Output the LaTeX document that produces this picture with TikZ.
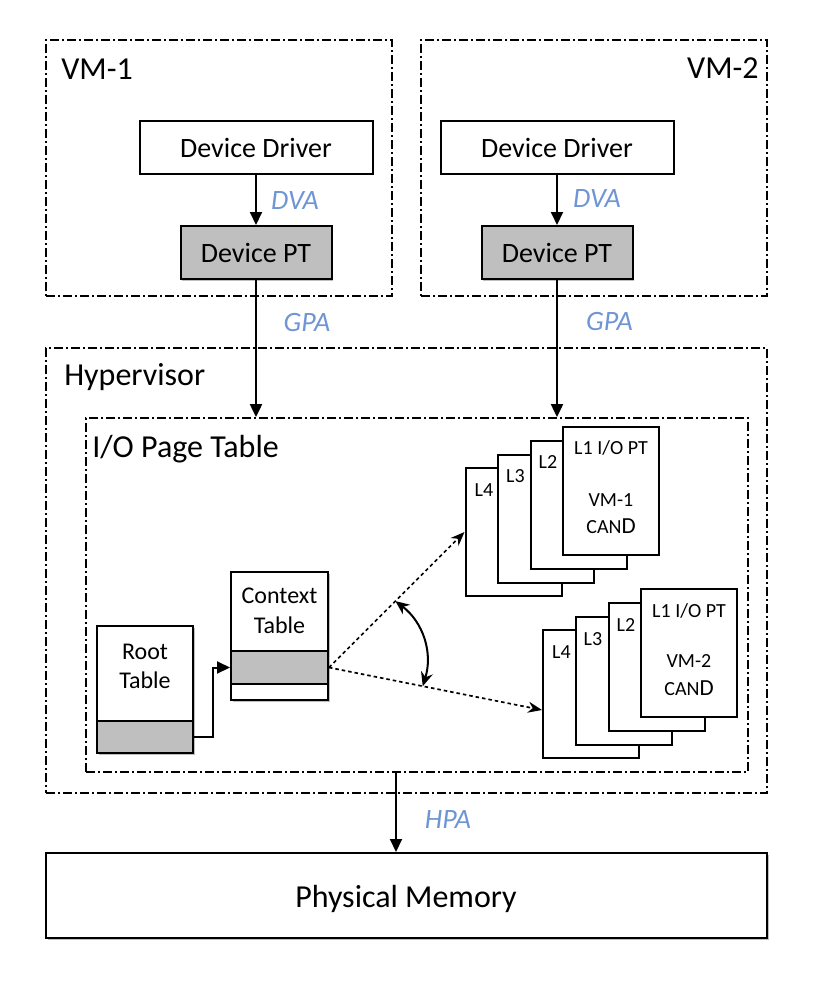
\documentclass[tikz,border=0pt]{standalone}
\usepackage{fontspec}
\setmainfont{Carlito}
\usetikzlibrary{arrows.meta,calc,shadows}
\definecolor{lblblue}{RGB}{111,149,213}
\definecolor{shadegray}{RGB}{191,191,191}
\begin{document}
\begin{tikzpicture}[x=1pt,y=-1pt,
  container/.style={draw, line width=1.8pt, dash pattern=on 9pt off 3pt on 2pt off 3pt, inner sep=0pt},
  box/.style={draw, line width=2pt, fill=white, inner sep=0pt,
    drop shadow={shadow xshift=1.5pt, shadow yshift=-1.5pt, opacity=0.25, fill=black}},
  plainbox/.style={draw, line width=2pt, fill=white, inner sep=0pt},
  graybox/.style={box, fill=shadegray},
  pagebox/.style={plainbox, minimum width=96pt, minimum height=128pt},
  arr/.style={line width=2pt, -{Triangle[length=13pt,width=12pt]}},
  dotarr/.style={line width=1.7pt, dash pattern=on 3.5pt off 3pt, -{Stealth[length=14pt,width=11pt]}},
  bigfont/.style={font=\fontsize{32}{38}\selectfont},
  devfont/.style={font=\fontsize{28}{33}\selectfont},
  tblfont/.style={font=\fontsize{24}{29}\selectfont},
  smallfont/.style={font=\fontsize{20}{24}\selectfont},
  addr/.style={font=\fontsize{28}{33}\selectfont\itshape, text=lblblue, inner sep=0pt},
  lab/.style={inner sep=0pt}
]
\useasboundingbox (0,0) rectangle (812,987);
\fill[white] (0,0) rectangle (812,987);

% containers
\node[container, minimum width=346pt, minimum height=256pt] (vm1) at (219,168) {};
\node[container, minimum width=346pt, minimum height=256pt] (vm2) at (594,168) {};
\node[container, minimum width=721pt, minimum height=445pt] (hyp) at (406.5,570.5) {};
\node[container, minimum width=662pt, minimum height=354pt] (iopt) at (417,595) {};

\node[lab, bigfont, anchor=base west] (vm1lbl) at ([xshift=16pt,yshift=-40pt]vm1.north west) {VM-1};
\node[lab, bigfont, anchor=base east] (vm2lbl) at ([xshift=-9pt,yshift=-39pt]vm2.north east) {VM-2};
\node[lab, bigfont, anchor=base west] (hyplbl) at ([xshift=19pt,yshift=-38pt]hyp.north west) {Hypervisor};
\node[lab, bigfont, anchor=base west] (ioptlbl) at ([xshift=7pt,yshift=-40pt]iopt.north west) {I/O Page Table};

% VM boxes
\node[box, devfont, minimum width=233pt, minimum height=53pt] (dd1) at (256,147.5) {Device Driver};
\node[graybox, devfont, minimum width=151pt, minimum height=53pt] (pt1) at (256,252.5) {Device PT};
\node[box, devfont, minimum width=233pt, minimum height=53pt] (dd2) at (557,147.5) {Device Driver};
\node[graybox, devfont, minimum width=151pt, minimum height=53pt] (pt2) at (557,252.5) {Device PT};

\draw[arr] (dd1.south) -- (pt1.north);
\draw[arr] (dd2.south) -- (pt2.north);
\draw[arr] (pt1.south) -- (pt1.south |- iopt.north);
\draw[arr] (pt2.south) -- (pt2.south |- iopt.north);

\node[addr] (dva1) at (295,201) {DVA};
\node[addr] (dva2) at (597,199) {DVA};
\node[addr] (gpa1) at (307,323) {GPA};
\node[addr] (gpa2) at (609.5,322) {GPA};
\node[addr] (hpa) at (448,820) {HPA};

% physical memory
\node[box, minimum width=721pt, minimum height=85pt] (phys) at (406.5,895.5) {};
\node[lab, bigfont, anchor=base] (physlbl) at (406,907) {Physical Memory};
\draw[arr] ([xshift=-21pt]iopt.south) -- ([xshift=-21pt]iopt.south |- phys.north);

% root and context tables
\node[box, minimum width=96pt, minimum height=127pt] (rt) at (145,689.5) {};
\node[plainbox, fill=shadegray, minimum width=96pt, minimum height=32pt, anchor=south] (rtgray) at (rt.south) {};
\node[lab, tblfont, anchor=base] (rtl1) at (145,659) {Root};
\node[lab, tblfont, anchor=base] (rtl2) at (145,688) {Table};

\node[box, minimum width=97pt, minimum height=128pt] (ct) at (279.5,636) {};
\node[plainbox, fill=shadegray, minimum width=97pt, minimum height=33pt] (ctgray) at (279.5,667.5) {};
\node[lab, tblfont, anchor=base] (ctl1) at (279.5,603) {Context};
\node[lab, tblfont, anchor=base] (ctl2) at (279.5,633) {Table};

\draw[arr] (rtgray.east) -- ++(19,0) |- (ctgray.west);

% top stack (VM-1)
\node[pagebox] (a4) at (513.5,532) {};
\node[pagebox] (a3) at (546,518.5) {};
\node[pagebox] (a2) at (578.5,504.5) {};
\node[pagebox] (a1) at (611,491) {};
\node[lab, smallfont, anchor=base west] (a4l) at ([xshift=10pt,yshift=-29pt]a4.north west) {L4};
\node[lab, smallfont, anchor=base west] (a3l) at ([xshift=9pt,yshift=-29pt]a3.north west) {L3};
\node[lab, smallfont, anchor=base west] (a2l) at ([xshift=9pt,yshift=-29pt]a2.north west) {L2};
\node[lab, smallfont, anchor=base] (a1l) at ([yshift=-28pt]a1.north) {L1 I/O PT};
\node[lab, smallfont, anchor=base] (a1m) at ([yshift=-80pt]a1.north) {VM-1};
\node[lab, smallfont, anchor=base] (a1c) at ([yshift=-107pt]a1.north) {CAN{\fontsize{23}{27}\selectfont D}};

% bottom stack (VM-2)
\node[pagebox] (b4) at (591,694) {};
\node[pagebox] (b3) at (623.5,681) {};
\node[pagebox] (b2) at (656.5,667) {};
\node[pagebox] (b1) at (689,653) {};
\node[lab, smallfont, anchor=base west] (b4l) at ([xshift=10pt,yshift=-29pt]b4.north west) {L4};
\node[lab, smallfont, anchor=base west] (b3l) at ([xshift=9pt,yshift=-29pt]b3.north west) {L3};
\node[lab, smallfont, anchor=base west] (b2l) at ([xshift=9pt,yshift=-29pt]b2.north west) {L2};
\node[lab, smallfont, anchor=base] (b1l) at ([yshift=-29pt]b1.north) {L1 I/O PT};
\node[lab, smallfont, anchor=base] (b1m) at ([yshift=-79pt]b1.north) {VM-2};
\node[lab, smallfont, anchor=base] (b1c) at ([yshift=-107pt]b1.north) {CAN{\fontsize{23}{27}\selectfont D}};

% dotted arrows
\coordinate (b4in) at ($(b4.west)+(0,16)$);
\draw[dotarr] (ctgray.east) -- (a4.west);
\draw[dotarr] (ctgray.east) -- (b4in);
\path (ctgray.east) -- (a4.west) coordinate[pos=0.49] (c1);
\path (ctgray.east) -- (b4in) coordinate[pos=0.44] (c2);
\draw[line width=2pt, {Stealth[length=14pt,width=12pt]}-{Stealth[length=14pt,width=12pt]}] (c1) to[bend left=35] (c2);
\end{tikzpicture}
\end{document}
